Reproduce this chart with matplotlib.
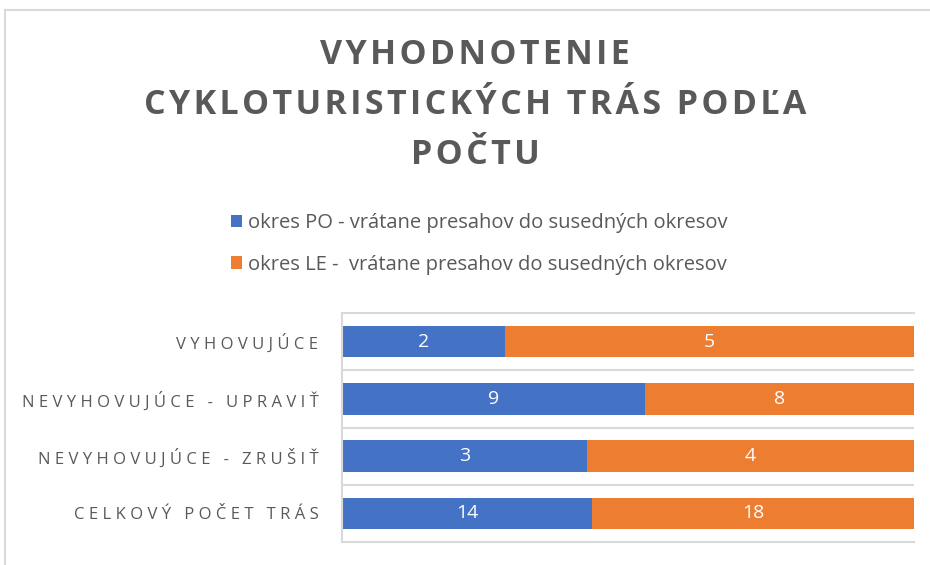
import matplotlib
matplotlib.use("Agg")
import matplotlib.pyplot as plt
from matplotlib.lines import Line2D

categories = ["VYHOVUJÚCE", "NEVYHOVUJÚCE - UPRAVIŤ", "NEVYHOVUJÚCE - ZRUŠIŤ", "CELKOVÝ POČET TRÁS"]
po_values = [2, 9, 3, 14]
le_values = [5, 8, 4, 18]
series_names = ["okres PO - vrátane presahov do susedných okresov",
                "okres LE -  vrátane presahov do susedných okresov"]
title_lines = ["VYHODNOTENIE", "CYKLOTURISTICKÝCH TRÁS PODĽA", "POČTU"]

BLUE = "#4472C4"
ORANGE = "#ED7D31"
GRAY = "#595959"
GRID = "#D9D9D9"
FONT = ["Open Sans", "DejaVu Sans"]


def spaced(s, sep="\u2009"):
    return sep.join(s)


fig = plt.figure(figsize=(9.3, 5.65), dpi=100)
ax = fig.add_axes([342 / 930, 1 - 542 / 565, (914 - 342) / 930, (542 - 313) / 565])

totals = [a + b for a, b in zip(po_values, le_values)]
po_share = [a / t for a, t in zip(po_values, totals)]
le_share = [b / t for b, t in zip(le_values, totals)]
y = list(range(len(categories)))

bars_po = ax.barh(y, po_share, height=0.55, color=BLUE, label=series_names[0])
bars_le = ax.barh(y, le_share, left=po_share, height=0.55, color=ORANGE, label=series_names[1])

for bars, vals in ((bars_po, po_values), (bars_le, le_values)):
    for rect, v in zip(bars, vals):
        ax.text(rect.get_x() + rect.get_width() / 2, rect.get_y() + rect.get_height() / 2,
                str(v), ha="center", va="center", color="white", fontsize=14, family=FONT)

ax.set_xlim(0, 1)
ax.set_ylim(len(categories) - 0.5, -0.5)
ax.set_yticks(y)
ax.set_yticklabels([spaced(c, " ") for c in categories], family=FONT, fontsize=12, color=GRAY)
ax.tick_params(axis="y", length=0, pad=17)
ax.set_xticks([])
for b in [0.5, 1.5, 2.5]:
    ax.axhline(b, color=GRID, lw=1.5, zorder=0)
for side in ["top", "bottom", "left"]:
    ax.spines[side].set_color(GRID)
    ax.spines[side].set_linewidth(1.5)
ax.spines["right"].set_visible(False)

# chart border (left and top)
fig.add_artist(Line2D([5 / 930, 5 / 930], [0, 1 - 10 / 565], color=GRID, lw=1.5))
fig.add_artist(Line2D([5 / 930, 1], [1 - 10 / 565, 1 - 10 / 565], color=GRID, lw=1.5))

for i, line in enumerate(title_lines):
    fig.text(475 / 930, 1 - (55 + 50 * i) / 565, spaced(line, "\u200a"), ha="center", va="center",
             fontsize=24.5, fontweight="bold", color=GRAY, family=FONT)

leg = fig.legend(handles=[bars_po, bars_le], loc="center", bbox_to_anchor=(479 / 930, 1 - 244 / 565),
                 ncol=1, frameon=False, prop={"family": FONT, "size": 14.5},
                 handlelength=0.55, handleheight=0.55, handletextpad=0.3, labelspacing=1.05)
for t in leg.get_texts():
    t.set_color(GRAY)

fig.savefig("out.png", dpi=100)
